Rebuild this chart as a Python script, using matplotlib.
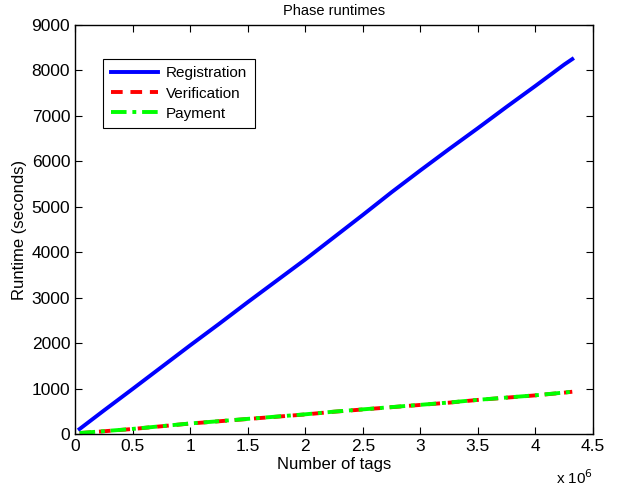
import matplotlib
matplotlib.use("Agg")
import matplotlib.pyplot as plt

plt.rcParams['font.family'] = ['Liberation Sans', 'DejaVu Sans']

tags = [0.04, 0.25, 0.5, 0.75, 1.0, 1.25, 1.5, 1.75, 2.0, 2.25, 2.5, 2.75, 3.0,
        3.25, 3.5, 3.75, 4.0, 4.25, 4.32]  # millions
registration = [110, 515, 990, 1470, 1950, 2420, 2900, 3370, 3840, 4330, 4820,
                5320, 5800, 6270, 6730, 7200, 7660, 8130, 8250]
verification = [20, 60, 110, 170, 230, 280, 330, 380, 430, 490, 540, 590, 640,
                690, 750, 800, 850, 910, 930]
payment = [22, 62, 112, 172, 232, 282, 333, 383, 433, 492, 542, 592, 642,
           693, 752, 802, 852, 912, 932]

fig = plt.figure(figsize=(6.2, 4.91), dpi=100)
ax = fig.add_axes([75/620, 1-434/491, 518/620, 409/491])

ax.plot(tags, registration, color='#0000ff', lw=2.8, label='Registration')
ax.plot(tags, verification, color='#ff0000', lw=2.8, ls=(0, (3, 2)), label='Verification')
ax.plot(tags, payment, color='#00ff00', lw=2.8, ls=(0, (4, 1.5, 1, 1.5)), label='Payment')

ax.set_xlim(0, 4.5)
ax.set_ylim(0, 9000)
ax.set_xticks([0, 0.5, 1, 1.5, 2, 2.5, 3, 3.5, 4, 4.5])
ax.set_xticklabels(['0', '0.5', '1', '1.5', '2', '2.5', '3', '3.5', '4', '4.5'])
ax.set_yticks(range(0, 9001, 1000))
ax.tick_params(direction='in', top=True, right=True, labelsize=12.5, length=5, width=0.8)
for s in ax.spines.values():
    s.set_linewidth(1.0)

ax.set_title('Phase runtimes', fontsize=10.5, pad=7)
ax.set_xlabel('Number of tags', fontsize=12, labelpad=2)
ax.set_ylabel('Runtime (seconds)', fontsize=12, labelpad=3)
ax.text(1.0, -0.085, r'x 10$^{6}$', transform=ax.transAxes, ha='right', va='top', fontsize=11)

leg = ax.legend(loc='upper left', bbox_to_anchor=(0.04, 0.936), fontsize=11,
                fancybox=False, edgecolor='black', framealpha=1, handlelength=3.1,
                borderpad=0.5, labelspacing=0.4, handletextpad=0.5)
leg.get_frame().set_linewidth(0.8)

fig.savefig('out.png', dpi=100)
